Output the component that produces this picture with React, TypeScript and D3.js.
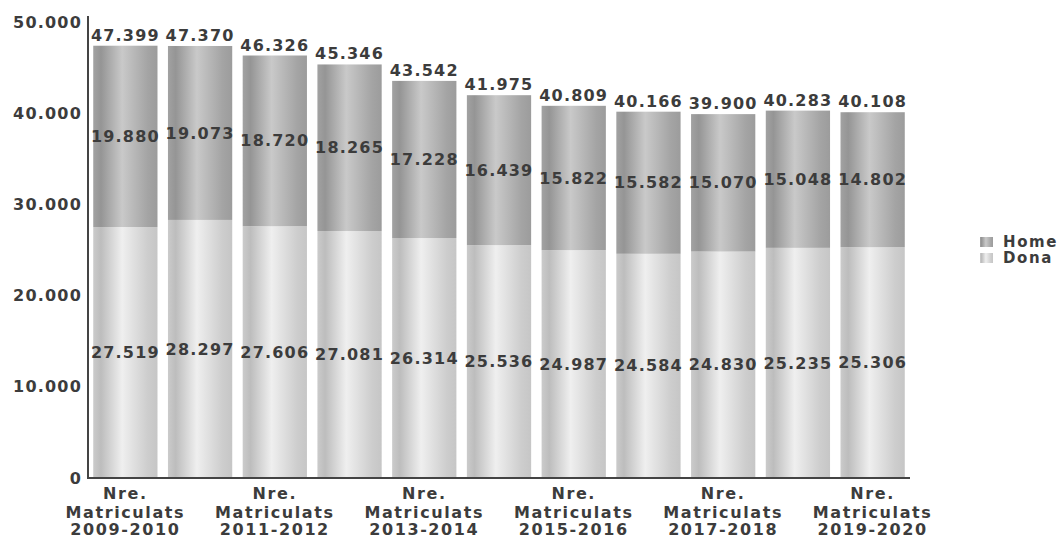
import React from "react";
import * as d3 from "d3";

const years = [
  "2009-2010", "2010-2011", "2011-2012", "2012-2013", "2013-2014", "2014-2015",
  "2015-2016", "2016-2017", "2017-2018", "2018-2019", "2019-2020",
];
const dona = [27519, 28297, 27606, 27081, 26314, 25536, 24987, 24584, 24830, 25235, 25306];
const home = [19880, 19073, 18720, 18265, 17228, 16439, 15822, 15582, 15070, 15048, 14802];
const yTicks = [0, 10000, 20000, 30000, 40000, 50000];
const seriesNames = ["Home", "Dona"];

const W = 1064;
const H = 540;
const left = 88;
const right = 910;
const top = 22;
const bottom = 478;

const fmt = (v: number) => {
  const s = String(v);
  if (v < 1000) return s;
  return s.slice(0, s.length - 3) + "." + s.slice(s.length - 3);
};

const FONT = "'DejaVu Sans', Verdana, sans-serif";
const TXT = "#3c3c3c";

export default function App() {
  const x = d3.scaleBand<string>().domain(years).range([left, right]).paddingInner(0.14).paddingOuter(0.07);
  const y = d3.scaleLinear().domain([0, 50000]).range([bottom, top]);
  const stacked = years.map((yr, i) => ({ yr, d: dona[i], h: home[i], t: dona[i] + home[i] }));
  const bw = x.bandwidth();

  return (
    <svg width={W} height={H} style={{ position: "absolute", left: 0, top: 0, background: "#fff" }} fontFamily={FONT}>
      <defs>
        <linearGradient id="gHome" x1="0" x2="1" y1="0" y2="0">
          <stop offset="0" stopColor="#a2a2a2" />
          <stop offset="0.12" stopColor="#959595" />
          <stop offset="0.45" stopColor="#c9c9c9" />
          <stop offset="0.85" stopColor="#a4a4a4" />
          <stop offset="1" stopColor="#9c9c9c" />
        </linearGradient>
        <linearGradient id="gDona" x1="0" x2="1" y1="0" y2="0">
          <stop offset="0" stopColor="#cbcbcb" />
          <stop offset="0.12" stopColor="#bdbdbd" />
          <stop offset="0.45" stopColor="#efefef" />
          <stop offset="0.85" stopColor="#cdcdcd" />
          <stop offset="1" stopColor="#c6c6c6" />
        </linearGradient>
      </defs>

      {stacked.map((s) => {
        const x0 = x(s.yr)!;
        const yD = y(s.d);
        const yT = y(s.t);
        const cx = x0 + bw / 2;
        return (
          <g key={s.yr}>
            <rect x={x0} y={yD} width={bw} height={bottom - yD} fill="url(#gDona)" />
            <rect x={x0} y={yT} width={bw} height={yD - yT} fill="url(#gHome)" />
            <text x={cx} y={yT - 5} textAnchor="middle" fontSize={16} fontWeight="bold" letterSpacing={1.2} fill={TXT}>
              {fmt(s.t)}
            </text>
            <text x={cx} y={(yT + yD) / 2} dy="0.35em" textAnchor="middle" fontSize={16} fontWeight="bold" letterSpacing={1.2} fill={TXT}>
              {fmt(s.h)}
            </text>
            <text x={cx} y={(yD + bottom) / 2} dy="0.35em" textAnchor="middle" fontSize={16} fontWeight="bold" letterSpacing={1.2} fill={TXT}>
              {fmt(s.d)}
            </text>
          </g>
        );
      })}

      {/* axes */}
      <line x1={left} x2={left} y1={top - 6} y2={bottom + 1} stroke="#444" strokeWidth={2} />
      <line x1={left - 1} x2={right} y1={bottom} y2={bottom} stroke="#444" strokeWidth={2} />

      {yTicks.map((t) => (
        <text key={t} x={left - 6} y={y(t)} dy="0.35em" textAnchor="end" fontSize={16} fontWeight="bold" letterSpacing={1.2} fill={TXT}>
          {fmt(t)}
        </text>
      ))}

      {years.map((yr, i) => {
        if (i % 2 !== 0) return null;
        const cx = x(yr)! + bw / 2;
        return (
          <text key={yr} textAnchor="middle" fontSize={16} fontWeight="bold" letterSpacing={1.6} fill={TXT}>
            <tspan x={cx} y={499}>Nre.</tspan>
            <tspan x={cx} y={517.5}>Matriculats</tspan>
            <tspan x={cx} y={535}>{yr}</tspan>
          </text>
        );
      })}

      {/* legend */}
      {seriesNames.map((n, i) => (
        <g key={n} transform={`translate(980, ${242 + i * 16})`}>
          <rect x={0} y={-5} width={13} height={10} fill={i === 0 ? "url(#gHome)" : "url(#gDona)"} />
          <text x={23} y={0} dy="0.36em" fontSize={15} fontWeight="bold" letterSpacing={1.6} fill={TXT}>
            {n}
          </text>
        </g>
      ))}
    </svg>
  );
}
